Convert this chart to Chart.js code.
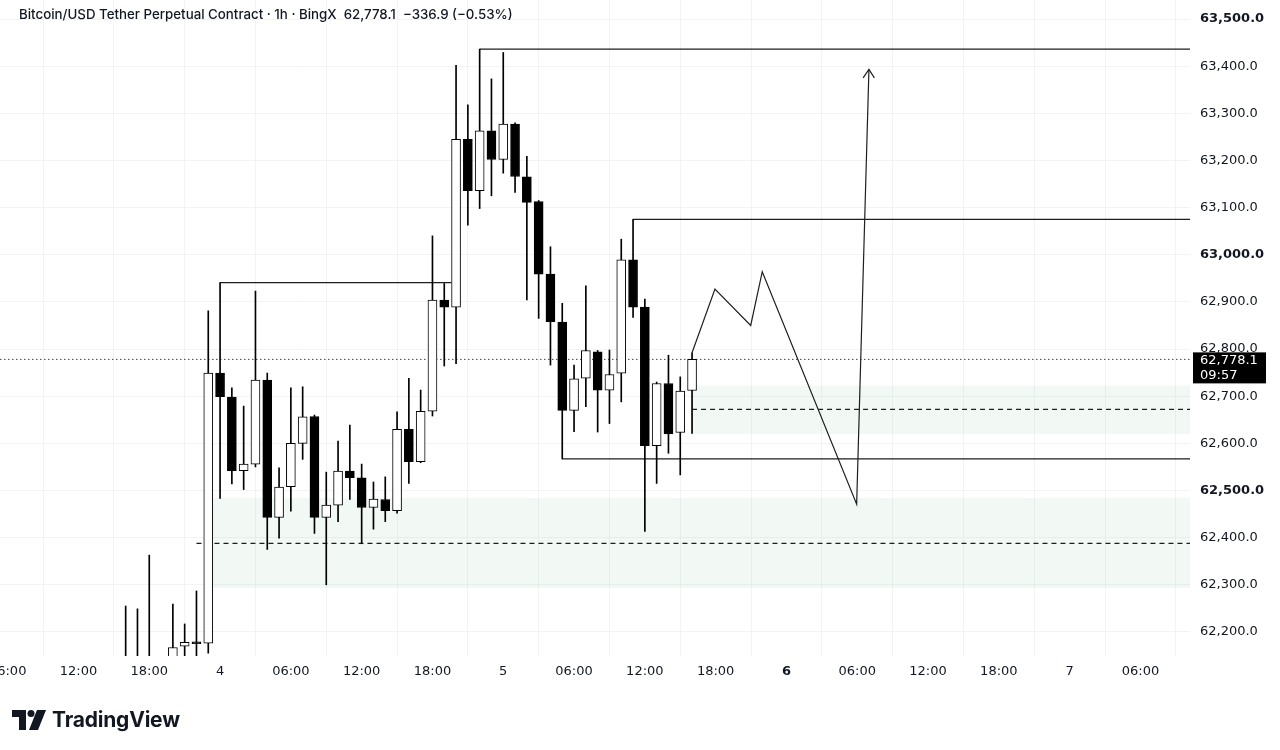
<!DOCTYPE html>
<html>
<head>
<meta charset="utf-8">
<script src="https://cdn.jsdelivr.net/npm/chart.js@4.4.1/dist/chart.umd.min.js"></script>
<style>
  html, body { margin: 0; padding: 0; background: #fff; }
  #wrap { position: relative; width: 1280px; height: 750px; }
  #title { position: absolute; left: 19px; top: 6px; font: 500 13.3px "Inter", sans-serif; color: #131722; white-space: pre; }
  #logo { position: absolute; left: 12px; top: 707px; display: flex; align-items: center; }
  #logo span { font: bold 21px "Inter", sans-serif; color: #131722; margin-left: 6px; letter-spacing: -0.2px; }
</style>
</head>
<body>
<div id="wrap">
  <canvas id="chart" width="1280" height="750"></canvas>
  <div id="title">Bitcoin/USD Tether Perpetual Contract · 1h · BingX  62,778.1  −336.9 (−0.53%)</div>
  <div id="logo">
    <svg width="34" height="20" viewBox="0 0 34 20">
      <path d="M0 0 H14 V20 H7 V7 H0 Z" fill="#131722"/>
      <circle cx="19" cy="3.5" r="3.5" fill="#131722"/>
      <path d="M25 0 H34 L26 20 H17 Z" fill="#131722"/>
    </svg>
    <span>TradingView</span>
  </div>
</div>
<script>
// hour index: 0 = day 4, 00:00
var hours  = [-8, -7, -6, -5, -4, -3, -2, -1, 0, 1, 2, 3, 4, 5, 6, 7, 8, 9, 10, 11, 12, 13, 14, 15, 16, 17, 18, 19, 20,
              21, 22, 23, 24, 25, 26, 27, 28, 29, 30, 31, 32, 33, 34, 35, 36, 37, 38, 39, 40];
var opens  = [62110, 62120, 62100, 62130, 62125, 62170, 62179, 62176, 62749, 62698, 62542, 62556, 62734, 62443, 62508,
              62600, 62657, 62443, 62469, 62541, 62527, 62464, 62481, 62457, 62630, 62561, 62668, 62904, 62889, 63245,
              63136, 63263, 63202, 63277, 63165, 63113, 62959, 62857, 62670, 62738, 62794, 62713, 62749, 62989, 62889,
              62595, 62727, 62623, 62712];
var highs  = [62255, 62249, 62363, 62140, 62259, 62217, 62287, 62881, 62941, 62718, 62679, 62923, 62749, 62548, 62718,
              62720, 62660, 62539, 62605, 62639, 62556, 62518, 62529, 62667, 62738, 62713, 63040, 62939, 63402, 63318,
              63436, 63373, 63429, 63280, 63209, 63115, 63017, 62897, 62766, 62934, 62797, 62798, 63033, 63075, 62906,
              62730, 62787, 62741, 62792];
var lows   = [62090, 62080, 62070, 62090, 62110, 62140, 62140, 62155, 62483, 62514, 62502, 62550, 62375, 62399, 62456,
              62566, 62409, 62300, 62434, 62481, 62387, 62418, 62434, 62452, 62515, 62559, 62658, 62764, 62769, 63063,
              63098, 63125, 63173, 63132, 62904, 62865, 62766, 62567, 62625, 62678, 62624, 62642, 62688, 62867, 62413,
              62515, 62579, 62533, 62621];
var closes = [62130, 62100, 62130, 62120, 62167, 62178, 62175, 62749, 62699, 62542, 62556, 62734, 62443, 62507, 62600,
              62656, 62443, 62469, 62541, 62527, 62464, 62482, 62457, 62630, 62561, 62668, 62904, 62889, 63245, 63136,
              63263, 63202, 63277, 63166, 63111, 62959, 62858, 62670, 62737, 62797, 62713, 62746, 62989, 62889, 62595,
              62727, 62620, 62711, 62778.1];

var lastPrice = 62778.1;
var lastLabel = '62,778.1';
var countdown = '09:57';

var xTickValues = [-18, -12, -6, 0, 6, 12, 18, 24, 30, 36, 42, 48, 54, 60, 66, 72, 78];
var xTickLabels = ['06:00', '12:00', '18:00', '4', '06:00', '12:00', '18:00', '5', '06:00', '12:00', '18:00', '6',
                   '06:00', '12:00', '18:00', '7', '06:00'];
var yTickValues = [63500, 63400, 63300, 63200, 63100, 63000, 62900, 62800, 62700, 62600, 62500, 62400, 62300, 62200];

var xMin = -18.65, xMax = 82.2;
var yMin = 62149, yMax = 63540.3;

// drawings (hour, price)
var levelLines = [
  [[0, 62941], [19.6, 62941]],
  [[22, 63436], [xMax, 63436]],
  [[35, 63075], [xMax, 63075]],
  [[29, 62567], [xMax, 62567]]
];
var dashedLines = [
  [[-2, 62388], [xMax, 62388]],
  [[40, 62672], [xMax, 62672]]
];
var zones = [
  { from: -0.7, to: xMax, top: 62484, bottom: 62293 },
  { from: 40, to: xMax, top: 62722, bottom: 62620 }
];
var pathPoints = [[40, 62792], [41.94, 62927], [44.97, 62850], [45.95, 62964], [53.95, 62471], [54.99, 63393]];
var arrowHead = [[54.5, 63375], [54.99, 63393], [55.45, 63375]];

function pts(list) {
  return list.map(function (p) { return { x: p[0], y: p[1] }; });
}

function lineSet(list, opts) {
  return Object.assign({
    type: 'line',
    data: pts(list),
    borderColor: '#1e1e1e',
    borderWidth: 1.2,
    pointRadius: 0,
    fill: false,
    tension: 0,
    order: 2
  }, opts || {});
}

var isDown = function (i) { return closes[i] < opens[i]; };

var datasets = [
  {
    type: 'bar',
    data: hours.map(function (h, i) { return { x: h, y: [opens[i], closes[i]] }; }),
    backgroundColor: function (ctx) { return isDown(ctx.dataIndex) ? '#000' : '#fff'; },
    borderColor: '#000',
    borderWidth: 1,
    borderSkipped: false,
    barThickness: 9,
    grouped: false,
    order: 0
  },
  {
    type: 'bar',
    data: hours.map(function (h, i) { return { x: h, y: [lows[i], highs[i]] }; }),
    backgroundColor: '#000',
    borderWidth: 0,
    barThickness: 1,
    grouped: false,
    order: 1
  }
];

levelLines.forEach(function (l) { datasets.push(lineSet(l)); });
dashedLines.forEach(function (l) { datasets.push(lineSet(l, { borderDash: [5, 4], borderWidth: 1.2 })); });
datasets.push(lineSet(pathPoints));
datasets.push(lineSet(arrowHead));
datasets.push(lineSet([[xMin, lastPrice], [xMax, lastPrice]], { borderDash: [1.5, 2.5], borderWidth: 1, borderColor: '#444', order: 3 }));
zones.forEach(function (z) {
  datasets.push({
    type: 'line',
    data: pts([[z.from, z.top], [z.to, z.top]]),
    borderWidth: 0,
    borderColor: 'rgba(0,0,0,0)',
    backgroundColor: 'rgba(90, 180, 110, 0.08)',
    pointRadius: 0,
    fill: { value: z.bottom },
    order: 5
  });
});

var priceBox = {
  id: 'priceBox',
  afterDraw: function (chart) {
    var ctx = chart.ctx;
    var y = chart.scales.y.getPixelForValue(lastPrice);
    var left = chart.chartArea.right + 3;
    ctx.save();
    ctx.fillStyle = '#000';
    ctx.fillRect(left, y - 7, 73, 31);
    ctx.fillStyle = '#fff';
    ctx.font = '13px "DejaVu Sans"';
    ctx.textBaseline = 'middle';
    ctx.textAlign = 'left';
    ctx.fillText(lastLabel, left + 7, y + 1);
    ctx.fillText(countdown, left + 7, y + 16);
    ctx.restore();
  }
};

function fmt(v) {
  return v.toLocaleString('en-US', { minimumFractionDigits: 1, maximumFractionDigits: 1 });
}

new Chart(document.getElementById('chart'), {
  type: 'bar',
  data: { datasets: datasets },
  plugins: [priceBox],
  options: {
    responsive: false,
    animation: false,
    layout: { padding: { left: 0, right: 0, top: 0, bottom: 64 } },
    plugins: {
      legend: { display: false },
      tooltip: { enabled: false }
    },
    scales: {
      x: {
        type: 'linear',
        min: xMin,
        max: xMax,
        offset: false,
        grid: { color: '#f2f3f5', drawTicks: false },
        border: { display: false },
        ticks: {
          autoSkip: false,
          maxRotation: 0,
          padding: 8,
          color: '#131722',
          font: function (ctx) {
            return { family: 'DejaVu Sans', size: 13, weight: ctx.tick && ctx.tick.value === 48 ? 'bold' : 'normal' };
          },
          callback: function (v) { return xTickLabels[xTickValues.indexOf(v)]; }
        },
        afterBuildTicks: function (s) { s.ticks = xTickValues.map(function (v) { return { value: v }; }); },
        afterFit: function (s) { s.height = 30; s.paddingLeft = 0; s.paddingRight = 0; }
      },
      y: {
        position: 'right',
        min: yMin,
        max: yMax,
        grid: { color: '#f2f3f5', drawTicks: false },
        border: { display: false },
        ticks: {
          padding: 10,
          color: '#131722',
          font: function (ctx) {
            return { family: 'DejaVu Sans', size: 13, weight: ctx.tick && ctx.tick.value % 500 === 0 ? 'bold' : 'normal' };
          },
          callback: function (v) { return fmt(v); }
        },
        afterBuildTicks: function (s) { s.ticks = yTickValues.map(function (v) { return { value: v }; }); },
        afterFit: function (s) { s.width = 90; s.paddingTop = 0; s.paddingBottom = 0; }
      }
    }
  }
});
</script>
</body>
</html>
